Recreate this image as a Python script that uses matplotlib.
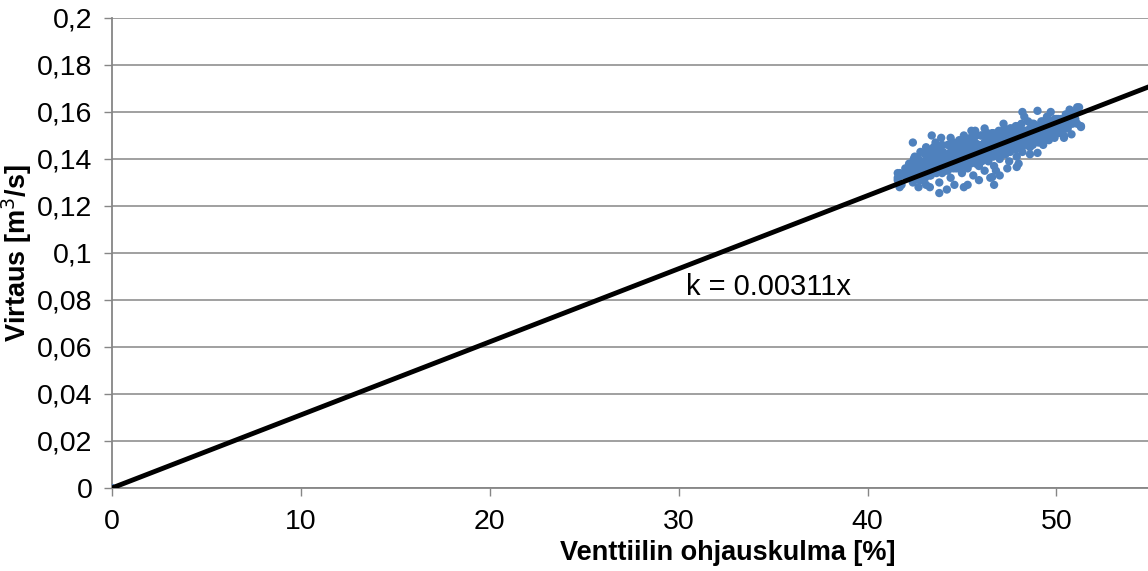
import matplotlib.pyplot as plt
from matplotlib.ticker import FuncFormatter, MultipleLocator

plt.rcParams['font.family'] = ['Liberation Sans', 'DejaVu Sans']

# valve opening [%] and measured flow [m3/s]
valve_pct = [0.0,
    41.6, 41.7, 41.8, 41.9, 42.0, 42.1, 42.2, 42.3, 42.4, 42.5, 42.6, 42.7, 42.8, 42.9, 43.0,
    42.2, 42.5, 42.8, 43.0, 42.7, 41.6, 41.6, 41.7, 42.4, 43.1,
    43.1, 43.2, 43.3, 43.4, 43.5, 43.6, 43.7, 43.8, 43.9, 44.0, 44.1, 44.2, 44.3, 44.4, 44.5,
    44.6, 44.7, 44.8, 44.9, 45.0, 43.3, 43.6, 44.2, 44.6, 43.9, 43.5, 44.0, 44.5, 43.1, 44.8,
    43.4, 43.8, 44.4, 45.1, 45.7,
    45.1, 45.2, 45.3, 45.4, 45.5, 45.6, 45.7, 45.8, 45.9, 46.0, 46.1, 46.2, 46.3, 46.4, 46.5,
    46.6, 46.7, 46.8, 46.9, 47.0, 45.3, 45.9, 46.5, 45.5, 46.2, 47.0, 45.8, 46.4, 45.1, 46.8,
    46.7, 46.6,
    47.1, 47.2, 47.3, 47.4, 47.5, 47.6, 47.7, 47.8, 47.9, 48.0, 48.1, 48.2, 48.3, 48.4, 48.5,
    48.6, 48.7, 48.8, 48.9, 49.0, 47.4, 48.0, 47.2, 48.3, 48.6, 48.2, 49.0, 49.0, 47.9,
    49.1, 49.2, 49.4, 49.5, 49.6, 49.8, 50.0, 50.1, 50.3, 50.5, 50.6, 50.8, 51.0, 51.1, 51.2,
    51.3, 49.3, 49.9, 50.4, 50.7, 49.7, 51.0, 51.1, 51.3, 50.4, 50.8,
    42.3, 42.3, 42.6, 42.6, 42.6, 42.9, 42.9, 43.2, 43.2, 43.2, 43.5, 43.5, 43.5,
    43.8, 43.8, 43.8, 44.1, 44.1, 44.1, 44.4, 44.4, 44.4, 44.7, 44.7, 44.7,
    45.0, 45.0, 45.0, 45.3, 45.3, 45.3, 45.6, 45.6, 45.6, 45.9, 45.9, 45.9,
    46.2, 46.2, 46.2, 46.5, 46.5, 46.5, 46.8, 46.8, 46.8, 47.1, 47.1, 47.1,
    47.4, 47.4, 47.4, 47.7, 47.7, 47.7, 48.0, 48.0, 48.0, 48.3, 48.3, 48.3,
    48.6, 48.6, 48.9, 48.9, 49.2, 49.2, 49.5, 49.5, 49.8, 49.8, 50.1, 50.1,
    50.4, 50.4, 50.7, 50.7, 51.0,
    43.0, 43.6, 44.2, 44.8, 45.4, 46.0, 46.6, 47.2, 47.8, 48.4, 49.0, 49.6, 50.2,
    43.3, 43.9, 44.5, 45.1, 45.7, 46.3, 46.9, 47.5, 48.1, 48.7, 49.3, 49.9,
    42.45, 42.45, 42.45, 42.75, 42.75, 42.75,
    43.05, 43.05, 43.05, 43.05, 43.35, 43.35, 43.35, 43.35, 43.65, 43.65, 43.65, 43.65,
    43.95, 43.95, 43.95, 43.95, 44.25, 44.25, 44.25, 44.25, 44.55, 44.55, 44.55, 44.55,
    44.85, 44.85, 44.85, 44.85, 45.15, 45.15, 45.15, 45.15, 45.45, 45.45, 45.45, 45.45,
    45.75, 45.75, 45.75, 45.75, 46.05, 46.05, 46.05, 46.05, 46.35, 46.35, 46.35, 46.35,
    46.65, 46.65, 46.65, 46.65, 46.95, 46.95, 46.95, 46.95, 47.25, 47.25, 47.25, 47.25,
    47.55, 47.55, 47.55, 47.55, 47.85, 47.85, 47.85, 47.85, 48.15, 48.15, 48.15, 48.15,
    48.45, 48.45, 48.45, 48.75, 48.75, 48.75, 49.05, 49.05, 49.05, 49.35, 49.35, 49.35,
    49.65, 49.65, 49.65, 49.95, 49.95, 50.25, 50.25, 50.55, 50.55, 50.85, 50.85]
flow = [0.0,
    0.131, 0.134, 0.129, 0.133, 0.136, 0.132, 0.138, 0.135, 0.130, 0.137, 0.133, 0.140, 0.136, 0.131, 0.139,
    0.134, 0.141, 0.143, 0.134, 0.128, 0.132, 0.134, 0.128, 0.147, 0.129,
    0.137, 0.142, 0.133, 0.139, 0.145, 0.136, 0.141, 0.130, 0.138, 0.143, 0.135, 0.140, 0.146, 0.132, 0.138,
    0.144, 0.136, 0.141, 0.147, 0.134, 0.128, 0.147, 0.127, 0.129, 0.149, 0.140, 0.137, 0.142, 0.145, 0.138,
    0.150, 0.1255, 0.149, 0.128, 0.152,
    0.139, 0.144, 0.136, 0.142, 0.148, 0.133, 0.140, 0.145, 0.137, 0.150, 0.142, 0.135, 0.147, 0.139, 0.144,
    0.151, 0.137, 0.143, 0.148, 0.140, 0.129, 0.131, 0.132, 0.152, 0.153, 0.133, 0.141, 0.146, 0.150, 0.135,
    0.129, 0.1323,
    0.146, 0.151, 0.142, 0.148, 0.139, 0.153, 0.145, 0.150, 0.141, 0.154, 0.147, 0.143, 0.152, 0.148, 0.156,
    0.145, 0.151, 0.155, 0.148, 0.153, 0.136, 0.138, 0.155, 0.158, 0.142, 0.160, 0.1605, 0.1426, 0.1366,
    0.150, 0.156, 0.152, 0.158, 0.148, 0.154, 0.157, 0.151, 0.155, 0.159, 0.153, 0.157, 0.160, 0.155, 0.162,
    0.154, 0.146, 0.149, 0.150, 0.161, 0.160, 0.157, 0.162, 0.1536, 0.149, 0.1505,
    0.133, 0.137, 0.135, 0.139, 0.132, 0.137, 0.134, 0.136, 0.139, 0.134, 0.138, 0.135, 0.142,
    0.137, 0.140, 0.143, 0.138, 0.141, 0.136, 0.140, 0.143, 0.137, 0.139, 0.142, 0.145,
    0.141, 0.138, 0.144, 0.142, 0.139, 0.146, 0.143, 0.140, 0.146, 0.143, 0.146, 0.140,
    0.144, 0.141, 0.147, 0.145, 0.142, 0.148, 0.146, 0.149, 0.143, 0.146, 0.143, 0.149,
    0.147, 0.150, 0.144, 0.148, 0.151, 0.145, 0.149, 0.146, 0.152, 0.149, 0.146, 0.152,
    0.150, 0.153, 0.151, 0.154, 0.152, 0.149, 0.152, 0.155, 0.151, 0.156, 0.154, 0.157,
    0.156, 0.153, 0.155, 0.158, 0.156,
    0.133, 0.135, 0.137, 0.138, 0.140, 0.141, 0.143, 0.145, 0.146, 0.148, 0.149, 0.151, 0.152,
    0.141, 0.142, 0.144, 0.146, 0.147, 0.149, 0.150, 0.152, 0.153, 0.155, 0.156, 0.157,
    0.133, 0.137, 0.140, 0.134, 0.138, 0.131,
    0.135, 0.139, 0.132, 0.142, 0.136, 0.140, 0.133, 0.144, 0.137, 0.141, 0.134, 0.145,
    0.137, 0.141, 0.134, 0.146, 0.138, 0.142, 0.135, 0.146, 0.139, 0.143, 0.136, 0.147,
    0.139, 0.143, 0.136, 0.148, 0.140, 0.144, 0.137, 0.148, 0.141, 0.145, 0.138, 0.149,
    0.142, 0.146, 0.138, 0.150, 0.142, 0.146, 0.139, 0.150, 0.143, 0.147, 0.140, 0.151,
    0.144, 0.148, 0.141, 0.151, 0.145, 0.149, 0.142, 0.152, 0.145, 0.149, 0.142, 0.153,
    0.146, 0.150, 0.143, 0.153, 0.147, 0.151, 0.144, 0.154, 0.148, 0.152, 0.145, 0.155,
    0.148, 0.152, 0.146, 0.149, 0.153, 0.146, 0.150, 0.154, 0.147, 0.151, 0.155, 0.148,
    0.152, 0.155, 0.149, 0.152, 0.156, 0.153, 0.157, 0.154, 0.157, 0.155, 0.158]

k = 0.00311
fit_x = [0.0, 60.0]
fit_y = [k * v for v in fit_x]

grid_col = '#868686'
blue = '#4f81bd'

fig = plt.figure(figsize=(11.48, 5.71), dpi=100)
ax = fig.add_axes([0.0976, 0.1454, 0.9024, 0.8231])

ax.scatter(valve_pct, flow, s=36, color=blue, edgecolors='none', zorder=3)
ax.plot(fit_x, fit_y, color='black', linewidth=3.5, zorder=4)
ax.text(30.4, 0.0855, 'k = 0.00311x', fontsize=21, ha='left', va='center', zorder=5)

ax.set_xlim(0, 54.85)
ax.set_ylim(0, 0.2)
ax.xaxis.set_major_locator(MultipleLocator(10))
ax.yaxis.set_major_locator(MultipleLocator(0.02))

comma = FuncFormatter(lambda v, pos: ('%g' % round(v, 4)).replace('.', ','))
ax.yaxis.set_major_formatter(comma)
ax.xaxis.set_major_formatter(comma)

ax.grid(axis='y', color=grid_col, linewidth=1.1)
ax.set_axisbelow(True)
for s in ['top', 'right']:
    ax.spines[s].set_visible(False)
for s in ['left', 'bottom']:
    ax.spines[s].set_color(grid_col)
    ax.spines[s].set_linewidth(1.3)
    ax.spines[s].set_zorder(2)
ax.tick_params(axis='both', direction='out', length=6, width=1, color=grid_col,
               labelsize=20.5, labelcolor='black')
ax.tick_params(axis='y', pad=8)
ax.tick_params(axis='x', pad=9)

ax.set_xlabel('Venttiilin ohjauskulma [%]', fontsize=19.5, fontweight='bold')
ax.set_ylabel('Virtaus [m$^3$/s]', fontsize=19.5, fontweight='bold')
ax.xaxis.set_label_coords(0.594, -0.11)
ax.yaxis.set_label_coords(-0.075, 0.5)

fig.savefig('out.png', dpi=100)
